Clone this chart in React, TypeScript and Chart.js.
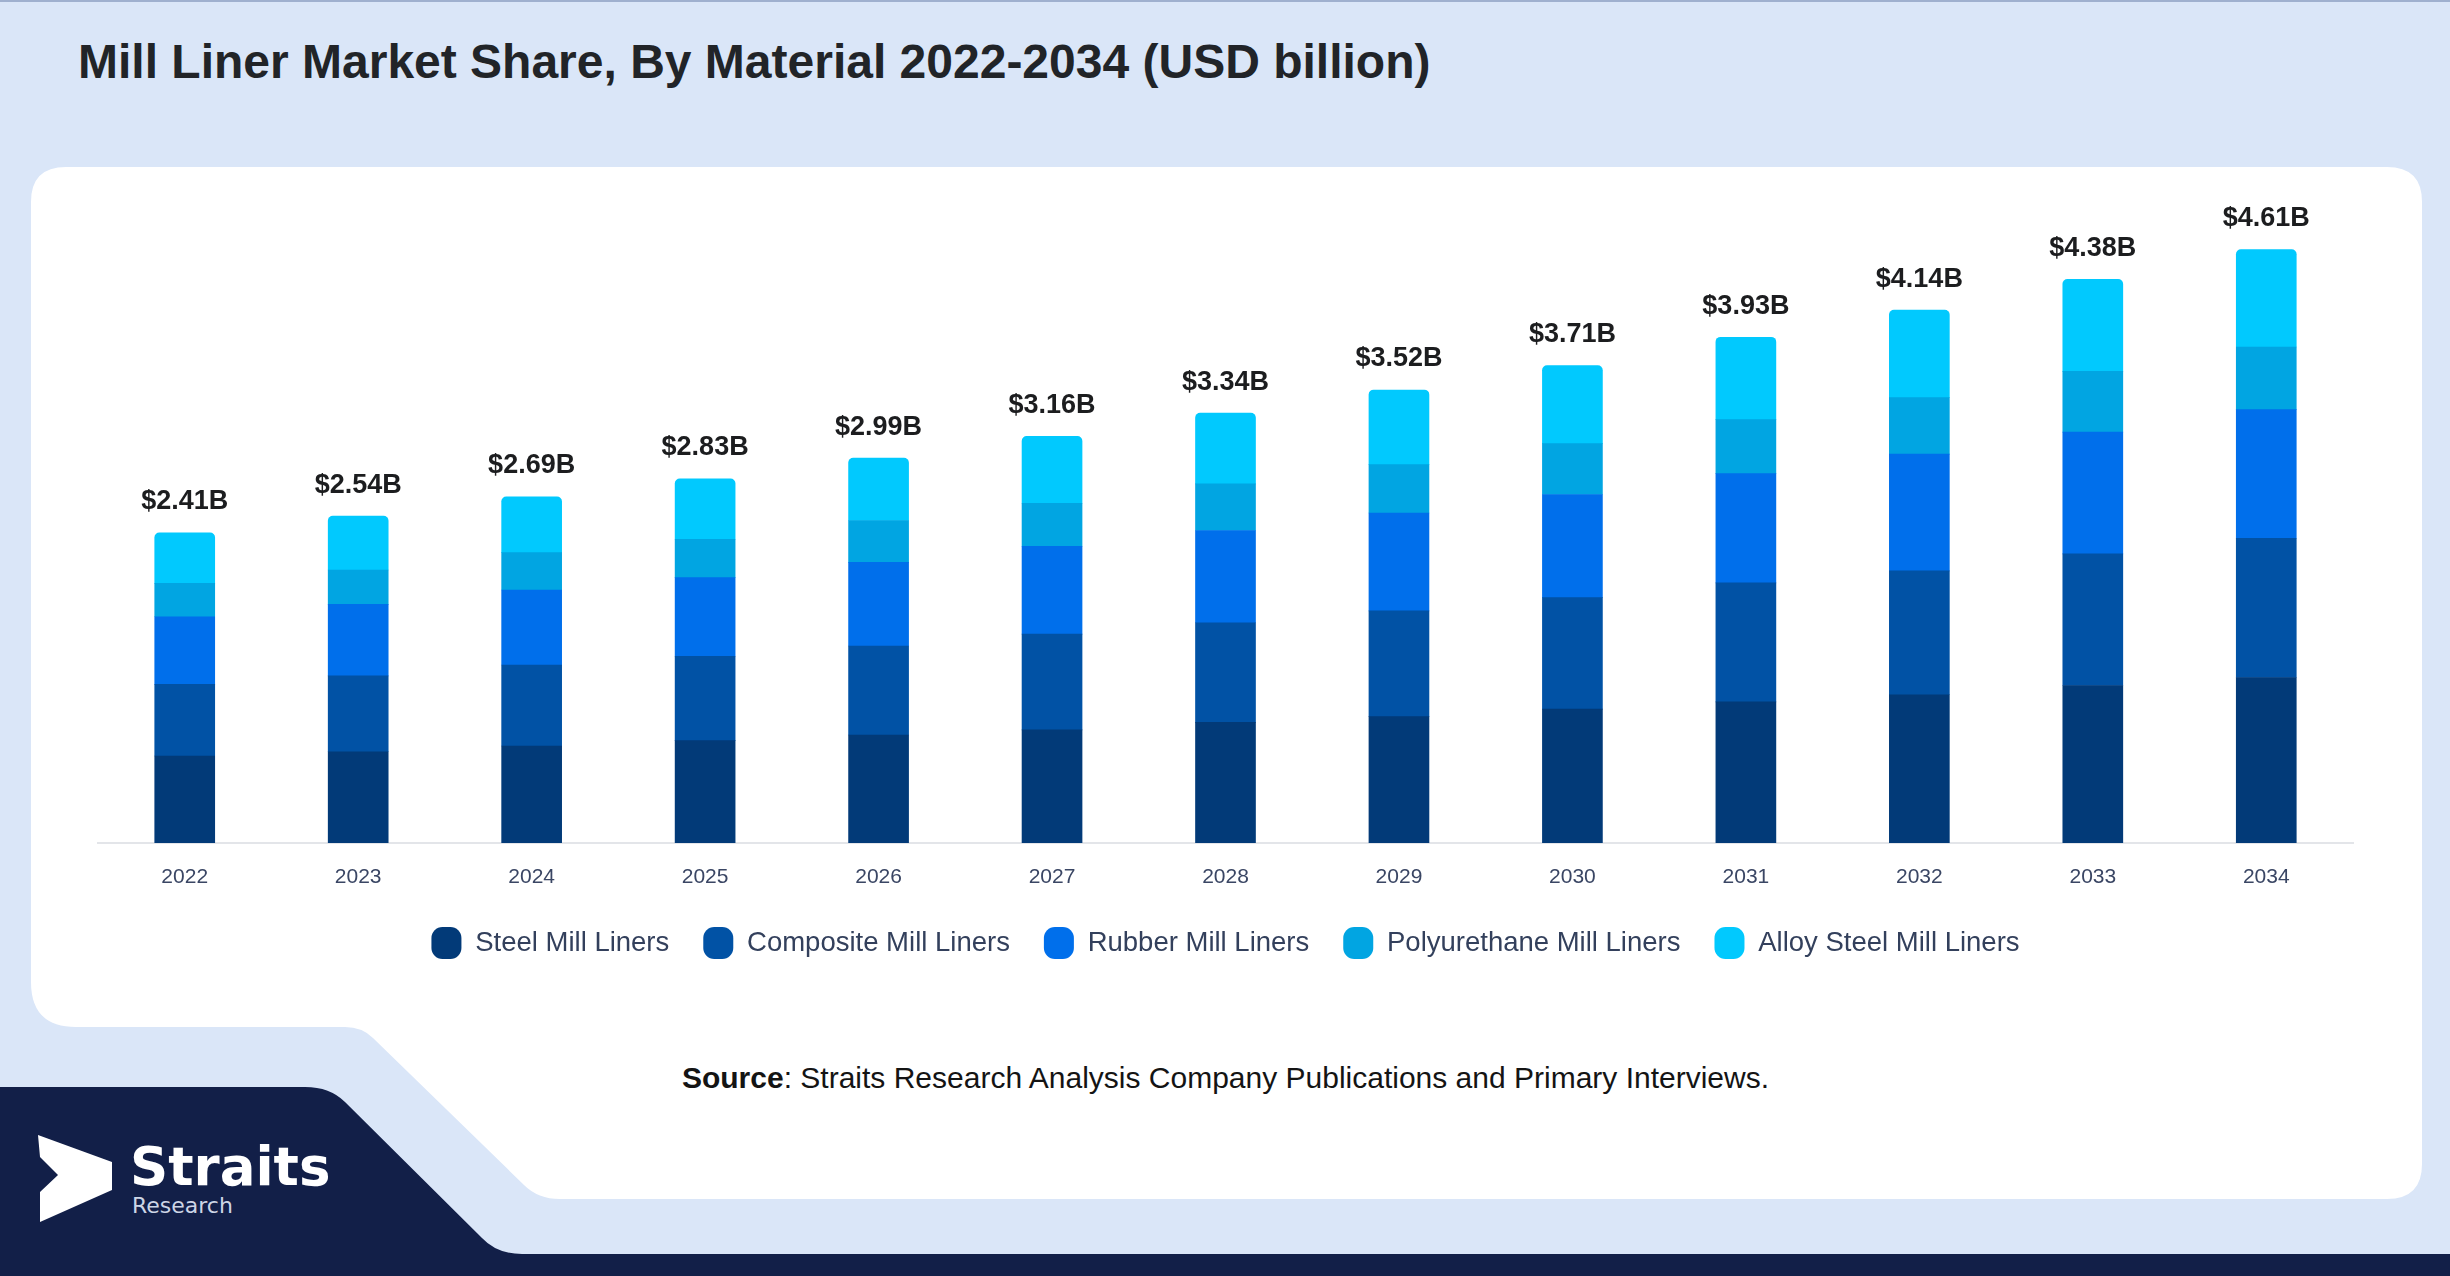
import React, { useEffect, useRef } from 'react';
import { Chart, registerables } from 'chart.js';

Chart.register(...registerables);

const FONT = '"Liberation Sans", Arial, Helvetica, sans-serif';

const years = ['2022', '2023', '2024', '2025', '2026', '2027', '2028', '2029', '2030', '2031', '2032', '2033', '2034'];
const steelMillLiners = [0.676, 0.709, 0.754, 0.795, 0.839, 0.879, 0.937, 0.982, 1.040, 1.096, 1.152, 1.224, 1.286];
const compositeMillLiners = [0.557, 0.590, 0.629, 0.656, 0.692, 0.744, 0.774, 0.822, 0.866, 0.925, 0.963, 1.023, 1.082];
const rubberMillLiners = [0.525, 0.555, 0.583, 0.611, 0.649, 0.683, 0.717, 0.760, 0.802, 0.849, 0.907, 0.946, 0.999];
const polyurethaneMillLiners = [0.259, 0.267, 0.290, 0.298, 0.326, 0.334, 0.363, 0.376, 0.395, 0.420, 0.438, 0.471, 0.487];
const alloySteelMillLiners = [0.393, 0.419, 0.434, 0.470, 0.484, 0.520, 0.549, 0.580, 0.607, 0.640, 0.680, 0.716, 0.756];
const totals = [2.41, 2.54, 2.69, 2.83, 2.99, 3.16, 3.34, 3.52, 3.71, 3.93, 4.14, 4.38, 4.61];

const seriesNames = ['Steel Mill Liners', 'Composite Mill Liners', 'Rubber Mill Liners', 'Polyurethane Mill Liners', 'Alloy Steel Mill Liners'];
const seriesColors = ['#023A78', '#0152A5', '#006FEB', '#01A5E2', '#01C9FE'];
const seriesValues = [steelMillLiners, compositeMillLiners, rubberMillLiners, polyurethaneMillLiners, alloySteelMillLiners];

const totalLabels = totals.map((v) => `$${v.toFixed(2)}B`);

const totalsPlugin = {
  id: 'totalsLabels',
  afterDatasetsDraw(chart: any) {
    const { ctx } = chart;
    const meta = chart.getDatasetMeta(chart.data.datasets.length - 1);
    ctx.save();
    ctx.font = `bold 27px ${FONT}`;
    ctx.fillStyle = '#1c1d1f';
    ctx.textAlign = 'center';
    ctx.textBaseline = 'middle';
    meta.data.forEach((bar: any, i: number) => {
      ctx.fillText(totalLabels[i], bar.x, bar.y - 31);
    });
    ctx.restore();
  },
};

export default function App() {
  const canvasRef = useRef<HTMLCanvasElement | null>(null);

  useEffect(() => {
    document.body.style.overflow = 'hidden';
    const canvas = canvasRef.current;
    if (!canvas) return;
    const chart = new Chart(canvas, {
      type: 'bar',
      data: {
        labels: years,
        datasets: seriesNames.map((name, i) => ({
          label: name,
          data: seriesValues[i],
          backgroundColor: seriesColors[i],
          borderWidth: 0,
          barThickness: 60,
          borderRadius: i === seriesNames.length - 1 ? { topLeft: 5, topRight: 5, bottomLeft: 0, bottomRight: 0 } : 0,
        })),
      },
      options: {
        responsive: false,
        animation: false,
        layout: { padding: { left: 98, right: 97, top: 199.5, bottom: 307 } },
        plugins: {
          legend: {
            position: 'bottom',
            labels: {
              boxWidth: 30,
              boxHeight: 32,
              useBorderRadius: true,
              borderRadius: 11,
              padding: 34,
              color: '#33405c',
              font: { family: FONT, size: 27.5 },
            },
          },
          tooltip: { enabled: false },
          title: { display: false },
        },
        scales: {
          x: {
            stacked: true,
            grid: { display: false, drawTicks: false },
            border: { display: true, color: '#e3e5e9', width: 2 },
            ticks: { color: '#3a4664', font: { family: FONT, size: 21 }, padding: 22 },
            afterFit: (s: any) => {
              s.height = 50;
            },
          },
          y: { stacked: true, display: false, min: 0, max: 5 },
        },
      },
      plugins: [totalsPlugin],
    } as any);
    return () => chart.destroy();
  }, []);

  return (
    <div style={{ position: 'absolute', left: 0, top: 0, width: 2450, height: 1276, overflow: 'hidden' }}>
      <svg width={2450} height={1276} style={{ position: 'absolute', left: 0, top: 0 }}>
        <rect x={0} y={0} width={2450} height={1276} fill="#DAE6F8" />
        <rect x={0} y={0} width={2450} height={2} fill="#9fb0cf" />
        <path
          d="M 66 167 L 2387 167 Q 2422 167 2422 202 L 2422 1164 Q 2422 1199 2387 1199 L 560 1199 Q 538 1199 524 1185 L 373 1038 Q 362 1027 345 1027 L 76 1027 Q 31 1027 31 982 L 31 202 Q 31 167 66 167 Z"
          fill="#ffffff"
        />
        <path
          d="M 0 1087 L 305 1087 Q 330 1087 345 1102 L 482 1238 Q 497 1254 522 1254 L 2450 1254 L 2450 1276 L 0 1276 Z"
          fill="#121F48"
        />
        <polygon points="38,1135 112,1162 112,1190 40,1222 40,1192 58,1175 40,1157" fill="#ffffff" />
        <text x={130} y={1185} fill="#ffffff" style={{ font: `bold 53px "DejaVu Sans", sans-serif` }}>
          Straits
        </text>
        <text x={132} y={1213} fill="#cdd5e6" style={{ font: `22px "DejaVu Sans", sans-serif` }}>
          Research
        </text>
        <text x={78} y={78} fill="#212428" style={{ font: `bold 48px ${FONT}` }}>
          Mill Liner Market Share, By Material 2022-2034 (USD billion)
        </text>
        <text x={1225.5} y={1088} textAnchor="middle" fill="#141414" style={{ font: `30px ${FONT}` }}>
          <tspan style={{ fontWeight: 'bold' }}>Source</tspan>
          <tspan>: Straits Research Analysis Company Publications and Primary Interviews.</tspan>
        </text>
      </svg>
      <canvas
        ref={canvasRef}
        width={2450}
        height={1276}
        style={{ position: 'absolute', left: 0, top: 0, width: 2450, height: 1276 }}
      />
    </div>
  );
}
